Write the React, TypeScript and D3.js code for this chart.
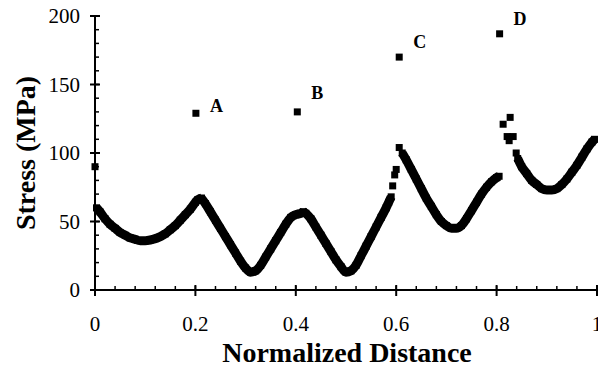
import React from "react";
import * as d3 from "d3";

// Continuous runs of the stress profile (normalized distance, stress MPa)
const run1: [number, number][] = [
  [0.003, 60], [0.01, 57], [0.02, 52], [0.03, 48], [0.04, 45], [0.05, 42], [0.06, 40],
  [0.07, 38], [0.08, 37], [0.09, 36], [0.10, 36], [0.11, 36.5], [0.12, 37.5], [0.13, 39],
  [0.14, 41], [0.15, 44], [0.16, 47], [0.17, 51], [0.18, 55], [0.19, 59], [0.20, 64],
  [0.205, 66], [0.212, 67],
];
const run2: [number, number][] = [
  [0.212, 67], [0.22, 63], [0.23, 57], [0.24, 51], [0.25, 45], [0.26, 39], [0.27, 33],
  [0.28, 27], [0.29, 21], [0.30, 16], [0.31, 13], [0.32, 14], [0.33, 18], [0.34, 24],
  [0.35, 30], [0.36, 36], [0.37, 42], [0.38, 48], [0.39, 53], [0.40, 55], [0.41, 56], [0.415, 57],
];
const run3: [number, number][] = [
  [0.415, 57], [0.42, 56], [0.43, 52], [0.44, 46], [0.45, 40], [0.46, 34], [0.47, 28],
  [0.48, 22], [0.49, 17], [0.50, 13], [0.51, 14], [0.52, 18], [0.53, 25], [0.54, 32],
  [0.55, 39], [0.56, 46], [0.57, 53], [0.58, 60], [0.585, 64], [0.59, 68],
];
const run4: [number, number][] = [
  [0.612, 100], [0.62, 95], [0.63, 88], [0.64, 81], [0.65, 74], [0.66, 67], [0.67, 61],
  [0.68, 55], [0.69, 50], [0.70, 47], [0.71, 45], [0.72, 45], [0.73, 47], [0.74, 52],
  [0.75, 58], [0.76, 64], [0.77, 70], [0.78, 75], [0.79, 79], [0.80, 82], [0.805, 83],
];
const run5: [number, number][] = [
  [0.842, 96], [0.85, 90], [0.86, 85], [0.87, 80], [0.88, 77], [0.89, 74], [0.90, 73],
  [0.91, 73], [0.92, 74], [0.93, 77], [0.94, 81], [0.95, 86], [0.96, 91], [0.97, 97],
  [0.98, 103], [0.99, 108], [0.995, 110],
];
const runs = [run1, run2, run3, run4, run5];

// Isolated points
const scatterPoints: [number, number][] = [
  [0.0, 90], [0.593, 76], [0.597, 84], [0.600, 88], [0.606, 104],
  [0.813, 121], [0.827, 126], [0.821, 112], [0.833, 112], [0.825, 109], [0.839, 100],
];

// Labelled peak points
const peakLabels = ["A", "B", "C", "D"];
const peakX = [0.201, 0.403, 0.606, 0.806];
const peakY = [129, 130, 170, 187];

const xTicks = [0, 0.2, 0.4, 0.6, 0.8, 1];
const xTickLabels = ["0", "0.2", "0.4", "0.6", "0.8", "1"];
const yTicks = [0, 50, 100, 150, 200];
const xMinor = d3.range(0, 1.0001, 0.04);
const yMinor = d3.range(0, 200.001, 10);

const W = 598, H = 370;
const left = 95, right = 597, top = 16, bottom = 290;
const serif = "'Liberation Serif', 'Times New Roman', serif";

export default function App() {
  const x = d3.scaleLinear().domain([0, 1]).range([left, right]);
  const y = d3.scaleLinear().domain([0, 200]).range([bottom, top]);
  const line = d3.line<[number, number]>().x(d => x(d[0])).y(d => y(d[1])).curve(d3.curveMonotoneX);
  const m = 7;
  const allPts = runs.flat();
  return (
    <svg width={W} height={H} style={{ position: "absolute", left: 0, top: 0, background: "#fff" }}
      fontFamily={serif}>
      {/* data */}
      {runs.map((r, i) => (
        <path key={"r" + i} d={line(r) || ""} fill="none" stroke="#000" strokeWidth={9} strokeLinejoin="round" />
      ))}
      {allPts.concat(scatterPoints).map((p, i) => (
        <rect key={"p" + i} x={x(p[0]) - m / 2} y={y(p[1]) - m / 2} width={m} height={m} fill="#000" />
      ))}
      {peakX.map((px, i) => (
        <rect key={"pk" + i} x={x(px) - m / 2} y={y(peakY[i]) - m / 2} width={m} height={m} fill="#000" />
      ))}
      {peakLabels.map((t, i) => (
        <text key={"pl" + i} x={x(peakX[i]) + 14} y={y(peakY[i]) - 1 - (i >= 2 ? 8 : 0) + (i === 1 ? -12 : 0)}
          fontSize={18} fontWeight="bold">{t}</text>
      ))}
      {/* axes */}
      <line x1={left} x2={left} y1={top} y2={bottom + 1} stroke="#000" strokeWidth={2} />
      <line x1={left - 1} x2={right} y1={bottom} y2={bottom} stroke="#000" strokeWidth={2} />
      {yMinor.map((v, i) => (
        <line key={"ym" + i} x1={left} x2={left + 4} y1={y(v)} y2={y(v)} stroke="#000" strokeWidth={1.5} />
      ))}
      {yTicks.map((v, i) => (
        <g key={"yt" + i}>
          <line x1={left - 5} x2={left + 5} y1={y(v)} y2={y(v)} stroke="#000" strokeWidth={2} />
          <text x={80} y={y(v)} dy="0.35em" textAnchor="end" fontSize={21}>{v}</text>
        </g>
      ))}
      {xMinor.map((v, i) => (
        <line key={"xm" + i} x1={x(v)} x2={x(v)} y1={bottom} y2={bottom - 4} stroke="#000" strokeWidth={1.5} />
      ))}
      {xTicks.map((v, i) => (
        <g key={"xt" + i}>
          <line x1={x(v)} x2={x(v)} y1={bottom - 5} y2={bottom + 6} stroke="#000" strokeWidth={2} />
          <text x={x(v)} y={331} textAnchor="middle" fontSize={21}>{xTickLabels[i]}</text>
        </g>
      ))}
      <text x={347} y={362} textAnchor="middle" fontSize={28} fontWeight="bold">Normalized Distance</text>
      <text transform="translate(35,153) rotate(-90)" textAnchor="middle" fontSize={28} fontWeight="bold">Stress (MPa)</text>
    </svg>
  );
}
